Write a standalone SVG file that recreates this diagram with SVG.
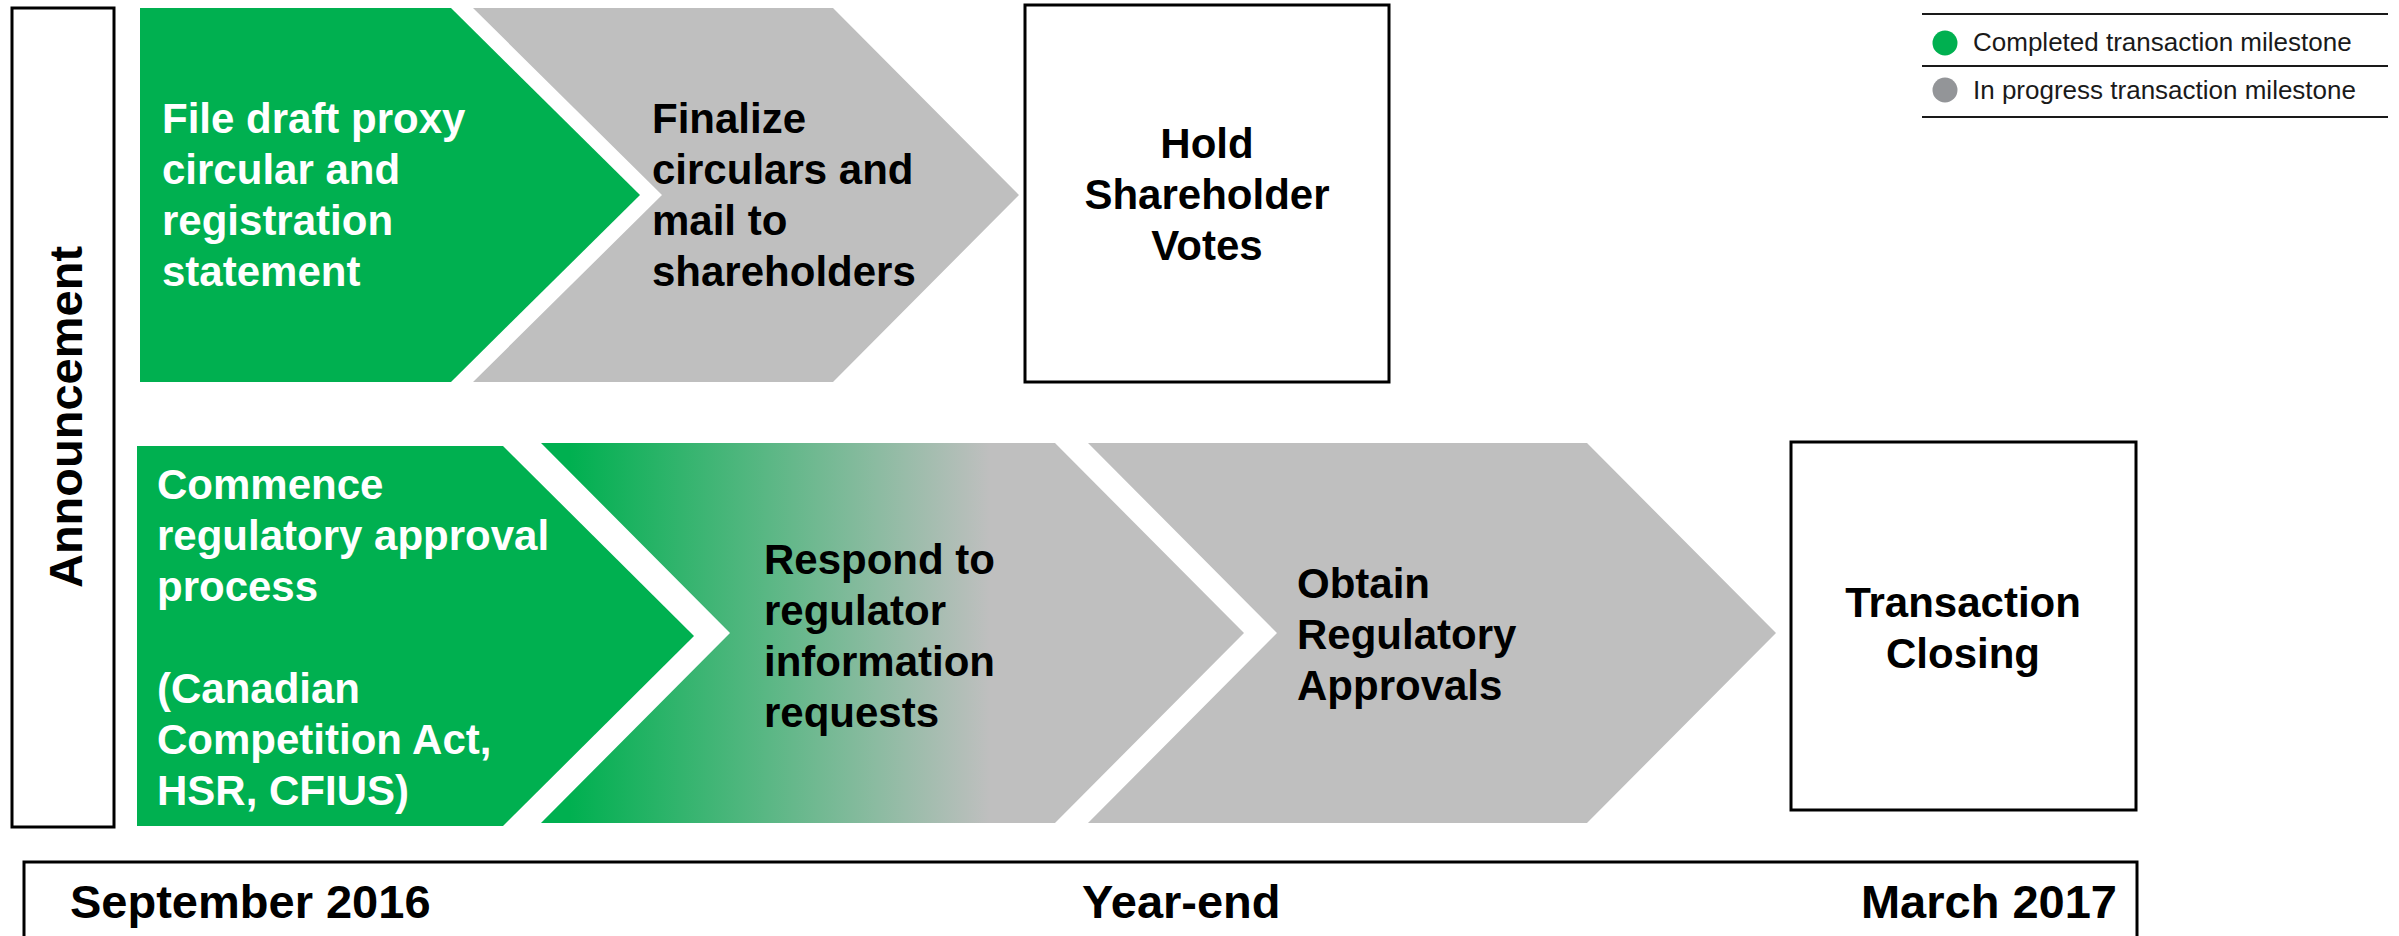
<svg xmlns="http://www.w3.org/2000/svg" width="2399" height="936" viewBox="0 0 2399 936">
<style>
.t{font-family:"Liberation Sans",Arial,sans-serif;font-weight:bold;font-size:42px}
.w{fill:#ffffff}
.k{fill:#000000}
.box{fill:#ffffff;stroke:#000000;stroke-width:3}
.green{fill:#00B050}
.gray{fill:#BFBFBF}
.leg{font-family:"Liberation Sans",Arial,sans-serif;font-size:26px;fill:#1a1a1a}
.big{font-family:"Liberation Sans",Arial,sans-serif;font-weight:bold;font-size:47px;fill:#000}
</style>
<defs>
<linearGradient id="grad" gradientUnits="userSpaceOnUse" x1="570" y1="0" x2="990" y2="0">
<stop offset="0" stop-color="#00B050"/>
<stop offset="1" stop-color="#BFBFBF"/>
</linearGradient>
</defs>
<rect width="2399" height="936" fill="#ffffff"/>

<g id="announcement">
<rect class="box" x="12" y="8" width="102" height="819"/>
<text class="big" transform="translate(82,417) rotate(-90)" text-anchor="middle">Announcement</text>
</g>

<g id="file-draft">
<polygon class="green" points="140,8 451,8 640,195 451,382 140,382"/>
<text class="t w" x="162" y="133">File draft proxy</text>
<text class="t w" x="162" y="184">circular and</text>
<text class="t w" x="162" y="235">registration</text>
<text class="t w" x="162" y="286">statement</text>
</g>

<g id="finalize">
<polygon class="gray" points="473,8 833,8 1019,195 833,382 473,382 662,195"/>
<text class="t k" x="652" y="133">Finalize</text>
<text class="t k" x="652" y="184">circulars and</text>
<text class="t k" x="652" y="235">mail to</text>
<text class="t k" x="652" y="286">shareholders</text>
</g>

<g id="hold-votes">
<rect class="box" x="1025" y="5" width="364" height="377"/>
<text class="t k" x="1207" y="158" text-anchor="middle">Hold</text>
<text class="t k" x="1207" y="209" text-anchor="middle">Shareholder</text>
<text class="t k" x="1207" y="260" text-anchor="middle">Votes</text>
</g>

<g id="commence">
<polygon class="green" points="137,446 503,446 694,636 503,826 137,826"/>
<text class="t w" x="157" y="499">Commence</text>
<text class="t w" x="157" y="550">regulatory approval</text>
<text class="t w" x="157" y="601">process</text>
<text class="t w" x="157" y="703">(Canadian</text>
<text class="t w" x="157" y="754">Competition Act,</text>
<text class="t w" x="157" y="805">HSR, CFIUS)</text>
</g>

<g id="respond">
<polygon fill="url(#grad)" points="541,443 1055,443 1244,633 1055,823 541,823 730,633"/>
<text class="t k" x="764" y="574">Respond to</text>
<text class="t k" x="764" y="625">regulator</text>
<text class="t k" x="764" y="676">information</text>
<text class="t k" x="764" y="727">requests</text>
</g>

<g id="obtain">
<polygon class="gray" points="1088,443 1587,443 1776,633 1587,823 1088,823 1277,633"/>
<text class="t k" x="1297" y="598">Obtain</text>
<text class="t k" x="1297" y="649">Regulatory</text>
<text class="t k" x="1297" y="700">Approvals</text>
</g>

<g id="closing">
<rect class="box" x="1791" y="442" width="345" height="368"/>
<text class="t k" x="1963" y="617" text-anchor="middle">Transaction</text>
<text class="t k" x="1963" y="668" text-anchor="middle">Closing</text>
</g>

<g id="timeline">
<rect class="box" x="24" y="862" width="2113" height="90"/>
<text class="big" x="70" y="918">September 2016</text>
<text class="big" x="1082" y="918">Year-end</text>
<text class="big" x="2117" y="918" text-anchor="end">March 2017</text>
</g>

<g id="legend">
<g stroke="#1a1a1a" stroke-width="2">
<line x1="1922" y1="14" x2="2388" y2="14"/>
<line x1="1922" y1="66" x2="2388" y2="66"/>
<line x1="1922" y1="117" x2="2388" y2="117"/>
</g>
<circle cx="1945" cy="43" r="12.5" fill="#00B050"/>
<text class="leg" x="1973" y="51">Completed transaction milestone</text>
<circle cx="1945" cy="90" r="12.5" fill="#939598"/>
<text class="leg" x="1973" y="99">In progress transaction milestone</text>
</g>

<g id="connectors"></g>
</svg>
